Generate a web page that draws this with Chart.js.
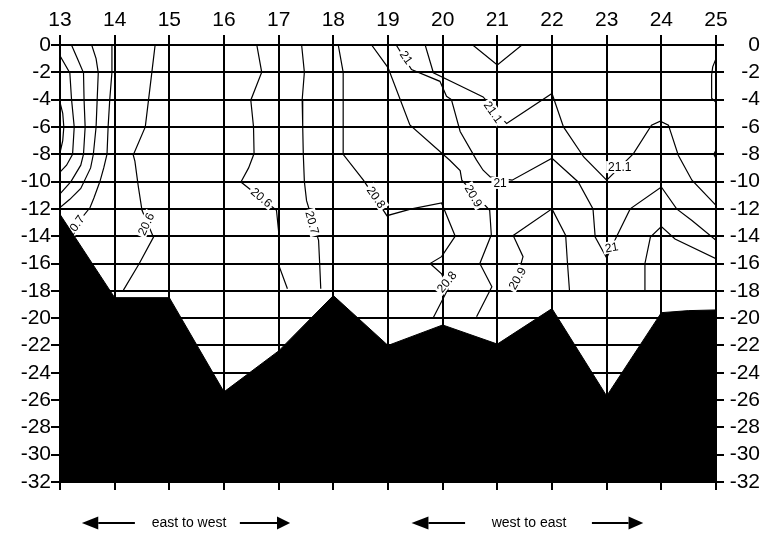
<!DOCTYPE html>
<html>
<head>
<meta charset="utf-8">
<script src="https://cdn.jsdelivr.net/npm/chart.js@4.4.1/dist/chart.umd.min.js"></script>
<style>
  html, body { margin: 0; padding: 0; background: #fff; }
</style>
</head>
<body>
<canvas id="c" width="763" height="533"></canvas>
<script>
// stations along the section and depth ticks
const stations = [13, 14, 15, 16, 17, 18, 19, 20, 21, 22, 23, 24, 25];
const depths = [0, -2, -4, -6, -8, -10, -12, -14, -16, -18, -20, -22, -24, -26, -28, -30, -32];

// sea floor profile
const bottomX = [13, 14, 15, 16, 17, 18, 19, 20, 21, 22, 23, 24, 24.5, 25];
const bottomDepth = [-12.4, -18.5, -18.5, -25.4, -22.4, -18.35, -22, -20.5, -21.9, -19.3, -25.7, -19.6, -19.45, -19.4];

// isotherms, [station, depth]
const iso21_1a = [[13, -4.2], [13.05, -5], [13.07, -6], [13.05, -7], [13, -7.9]];
const iso21_0a = [[13, -0.8], [13.18, -2.04], [13.21, -3.93], [13.26, -6], [13.23, -8], [13.12, -8.8], [13, -9.3]];
const iso20_9a = [[13.21, 0], [13.32, -1], [13.43, -2.04], [13.44, -4], [13.46, -6], [13.43, -8], [13.38, -8.8], [13.2, -10], [13, -10.9]];
const iso20_8a = [[13.58, 0], [13.66, -1], [13.7, -2.04], [13.68, -4], [13.66, -6], [13.61, -8], [13.56, -9], [13.38, -10.5], [13.18, -11.3], [13, -11.9]];
const iso20_7a = [[13.95, 0], [13.95, -2], [13.91, -4], [13.88, -6], [13.86, -8], [13.8, -9], [13.73, -10], [13.62, -11.2], [13.55, -11.9], [13.27, -13.3], [13.1, -14]];
const iso20_6a = [[14.74, 0], [14.68, -2], [14.62, -4], [14.56, -6], [14.34, -8.05], [14.37, -8.5], [14.43, -10.3], [14.5, -12.1], [14.71, -14.07], [14.45, -16], [14.16, -17.95]];
const iso20_6b = [[16.6, 0], [16.69, -2], [16.49, -4.04], [16.54, -6], [16.55, -7.95], [16.45, -9], [16.31, -10.03], [16.96, -12.1], [17.01, -14.07], [17.0, -16.1], [17.16, -17.85]];
const iso20_7b = [[17.42, 0], [17.47, -2], [17.43, -4.03], [17.44, -6], [17.45, -7.95], [17.47, -10], [17.51, -11.4], [17.73, -14.3], [17.75, -16], [17.77, -17.85]];
const iso20_8b = [[18.09, 0], [18.18, -2], [18.18, -8], [18.55, -9.9], [18.98, -12.5], [19.43, -12.0], [19.98, -11.57], [20.23, -14.0], [19.98, -15.5], [19.77, -16.0], [19.98, -16.75], [20.1, -17.85], [19.83, -19.95]];
const iso20_9b = [[18.7, 0], [19.0, -1.65], [19.4, -5.85], [20.13, -8.44], [20.32, -9.2], [20.35, -9.9], [20.86, -12.1], [20.89, -13.9], [20.68, -16.0], [20.9, -17.7], [20.62, -19.9]];
const iso21_0b = [[19.15, 0], [19.43, -1.8], [19.95, -2.66], [20.07, -3.76], [20.16, -4.0], [20.32, -6.33], [20.62, -8.43], [20.74, -9.17], [20.87, -9.66], [21.27, -9.9], [22.0, -8.3], [22.48, -10.03], [22.75, -12], [22.79, -14.07], [23.0, -15.6], [23.18, -14.05], [23.43, -12], [24.0, -10.4], [24.28, -12], [24.56, -12.85], [25, -14.3]];
const iso21_1b = [[19.68, 0], [19.83, -2.03], [20.3, -2.95], [20.74, -3.8], [21.17, -5.75], [22.0, -3.55], [22.21, -6.0], [22.58, -8.2], [23.0, -9.9], [23.49, -7.95], [23.82, -5.87], [23.98, -5.58], [24.13, -5.87], [24.31, -8.07], [24.56, -9.9], [25, -11.74]];
const iso21_2a = [[20.55, 0], [21, -1.47], [21.45, 0]];
const iso20_9c = [[21.3, -17.9], [21.47, -15.5], [21.29, -13.95], [22, -12], [22.25, -13.95], [22.28, -15.8], [22.32, -18]];
const iso21_0c = [[23.7, -18], [23.7, -16], [23.8, -14.06], [24, -13.3], [24.25, -14.2], [25, -15.65]];
const iso21_2b = [[25, -1.0], [24.94, -1.6], [24.92, -2.2], [24.92, -3.9], [25, -4.2]];
const iso21_2c = [[25, -7.7], [24.96, -8], [25, -8.3]];

const contours = [iso21_1a, iso21_0a, iso20_9a, iso20_8a, iso20_7a, iso20_6a, iso20_6b, iso20_7b,
                  iso20_8b, iso20_9b, iso21_0b, iso21_1b, iso21_2a, iso20_9c, iso21_0c, iso21_2b, iso21_2c];

// contour labels: text, station, depth
const isoLabels = [
    ['20.7', 13.27, -13.25], ['20.6', 14.57, -13.1], ['20.6', 16.69, -11.14], ['20.7', 17.62, -13.0],
    ['20.8', 18.79, -11.14], ['21', 19.34, -0.9], ['20.9', 20.57, -11.04], ['21.1', 20.93, -4.9],
    ['21', 21.05, -10.1], ['20.8', 20.07, -17.33], ['20.9', 21.36, -17.08], ['21.1', 23.24, -8.94],
    ['21', 23.09, -14.8]
];
const labelAngles = [-55, -65, 40, 75, 55, 55, 60, 55, 0, -50, -60, 0, -10];

const ink = '#000';
const tickFont = { family: '"Liberation Sans", Arial, sans-serif', size: 21 };

function fixTicks(values) {
    return function (scale) { scale.ticks = values.map(v => ({ value: v })); };
}

const bottomSet = {
    data: bottomX.map((x, i) => ({ x: x, y: bottomDepth[i] })),
    borderColor: ink, backgroundColor: ink, borderWidth: 1,
    pointRadius: 0, tension: 0, fill: 'start', order: 0
};

const contourSets = contours.map(c => ({
    data: c.map(p => ({ x: p[0], y: p[1] })),
    borderColor: ink, borderWidth: 1.2, pointRadius: 0, tension: 0, fill: false, order: 1
}));

// labels go on after the contours, before the black sea floor
const labelPlugin = {
    id: 'isoLabels',
    afterDatasetDraw(chart, args) {
        if (args.index !== 1) return;
        const { ctx, scales: { x, y } } = chart;
        ctx.save();
        ctx.font = '12px "Liberation Sans", Arial, sans-serif';
        ctx.textAlign = 'center';
        ctx.textBaseline = 'middle';
        isoLabels.forEach((l, i) => {
            ctx.save();
            ctx.translate(x.getPixelForValue(l[1]), y.getPixelForValue(l[2]));
            ctx.rotate(labelAngles[i] * Math.PI / 180);
            const w = ctx.measureText(l[0]).width;
            ctx.fillStyle = '#fff';
            ctx.fillRect(-w / 2 - 2, -6, w + 4, 12);
            ctx.fillStyle = ink;
            ctx.fillText(l[0], 0, 1);
            ctx.restore();
        });
        ctx.restore();
    }
};

function arrow(ctx, from, base, tip, yy) {
    ctx.beginPath(); ctx.moveTo(from, yy); ctx.lineTo(base, yy); ctx.stroke();
    ctx.beginPath(); ctx.moveTo(tip, yy); ctx.lineTo(base, yy - 6.5); ctx.lineTo(base, yy + 6.5);
    ctx.closePath(); ctx.fill();
}

const directionPlugin = {
    id: 'direction',
    afterDraw(chart) {
        const { ctx, scales: { x, y } } = chart;
        const yy = y.getPixelForValue(-35);
        const px = v => x.getPixelForValue(v);
        const groups = [
            ['east to west', [13.40, 13.70, 14.37], 15.36, [16.29, 16.97, 17.21]],
            ['west to east', [19.43, 19.74, 20.41], 21.58, [22.73, 23.40, 23.67]]
        ];
        ctx.save();
        ctx.strokeStyle = ink; ctx.fillStyle = ink; ctx.lineWidth = 2;
        ctx.font = '14px "Liberation Sans", Arial, sans-serif';
        ctx.textAlign = 'center'; ctx.textBaseline = 'middle';
        groups.forEach(g => {
            arrow(ctx, px(g[1][2]), px(g[1][1]), px(g[1][0]), yy);
            arrow(ctx, px(g[3][0]), px(g[3][1]), px(g[3][2]), yy);
            ctx.fillText(g[0], px(g[2]), yy);
        });
        ctx.restore();
    }
};

const gridBase = { color: ink, lineWidth: 2 };
const border = { color: ink, width: 2 };

new Chart(document.getElementById('c'), {
    type: 'line',
    data: { datasets: [bottomSet, ...contourSets] },
    options: {
        responsive: false,
        animation: false,
        layout: { padding: { right: 3 } },
        plugins: { legend: { display: false }, tooltip: { enabled: false } },
        scales: {
            x: {
                type: 'linear', position: 'bottom', min: 13, max: 25,
                afterBuildTicks: fixTicks(stations), afterFit: s => { s.height = 51; },
                ticks: { display: false },
                grid: { ...gridBase, tickLength: 8 }, border: border
            },
            x2: {
                type: 'linear', position: 'top', min: 13, max: 25,
                afterBuildTicks: fixTicks(stations), afterFit: s => { s.height = 45; },
                ticks: { color: ink, font: tickFont, padding: 2, maxRotation: 0, autoSkip: false },
                grid: { ...gridBase, drawOnChartArea: false, tickLength: 10 }, border: border
            },
            y: {
                type: 'linear', position: 'left', min: -32, max: 0,
                afterBuildTicks: fixTicks(depths), afterFit: s => { s.width = 60; },
                ticks: { color: ink, font: tickFont, padding: 0, autoSkip: false },
                grid: { ...gridBase, tickLength: 9 }, border: border
            },
            y2: {
                type: 'linear', position: 'right', min: -32, max: 0,
                afterBuildTicks: fixTicks(depths), afterFit: s => { s.width = 44; },
                ticks: { color: ink, font: tickFont, padding: 0, autoSkip: false, crossAlign: 'far' },
                grid: { ...gridBase, drawOnChartArea: false, tickLength: 8 }, border: border
            }
        }
    },
    plugins: [labelPlugin, directionPlugin]
});
</script>
</body>
</html>
